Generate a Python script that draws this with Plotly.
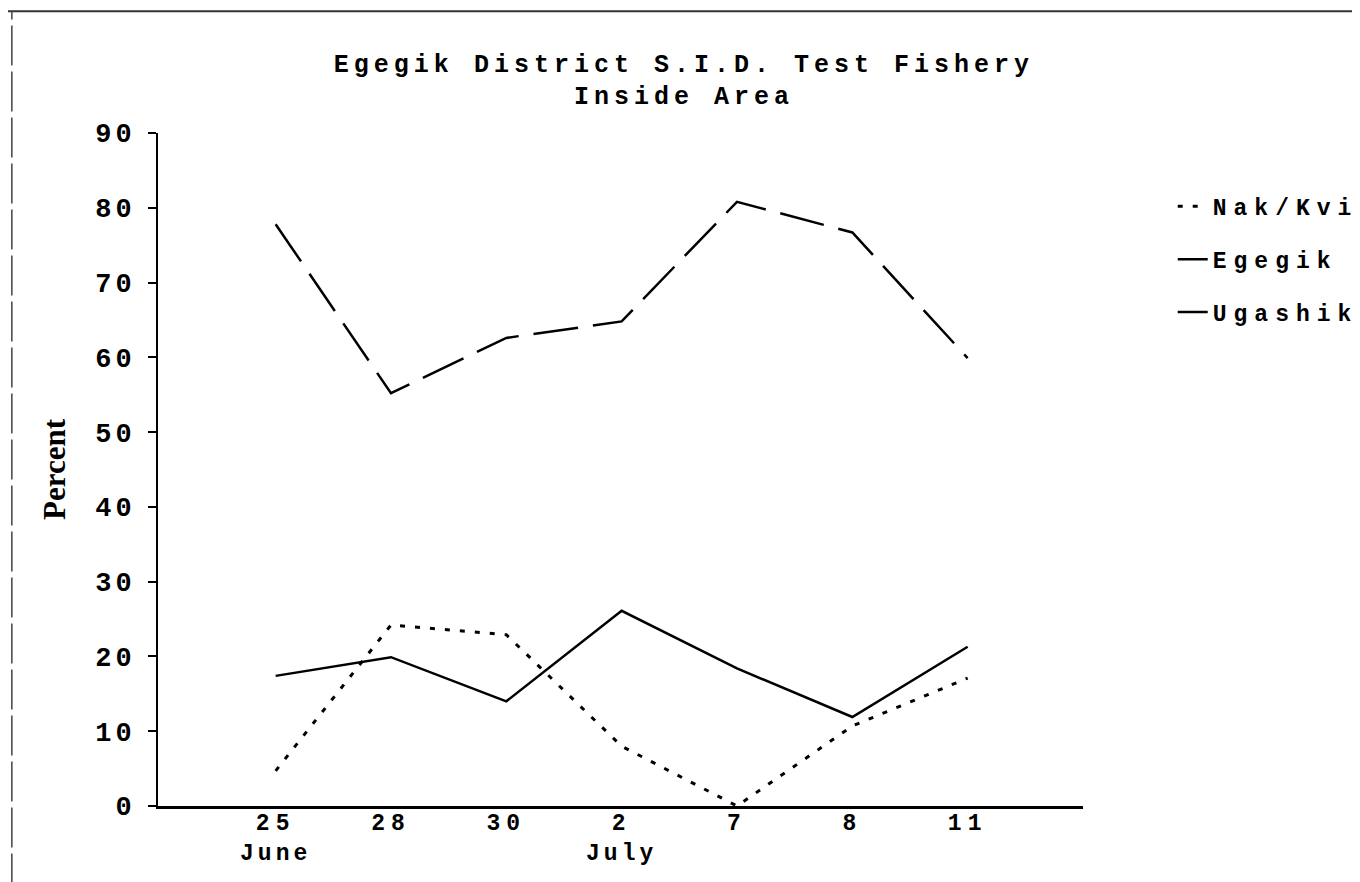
import plotly.graph_objects as go

# sampling dates (day of month) and month labels under the first day of each month
dates = ["25", "28", "30", "2", "7", "8", "11"]
months = ["June", "", "", "July", "", "", ""]

# percent of catch by stock
nak_kvi = [4.7, 24.2, 22.9, 8.0, 0.0, 10.7, 17.1]
egegik = [77.8, 55.2, 62.6, 64.8, 80.8, 76.7, 59.9]
ugashik = [17.4, 19.9, 14.0, 26.1, 18.4, 11.9, 21.3]

y_ticks = [0, 10, 20, 30, 40, 50, 60, 70, 80, 90]

MONO = "Liberation Mono"


def spaced(text, px):
    return f'<span style="letter-spacing:{px}px">{text}</span>'


x_ticktext = []
for d, m in zip(dates, months):
    label = spaced(d, 6)
    if m:
        label += "<br>" + spaced(m, 4)
    x_ticktext.append(label)

fig = go.Figure()
fig.add_trace(go.Scatter(x=dates, y=nak_kvi, mode="lines", name=spaced("Nak/Kvi", 7),
                         legendgroup="a", line=dict(color="black", width=3, dash="5px,10px")))
fig.add_trace(go.Scatter(x=dates, y=egegik, mode="lines", name=spaced("Egegik", 7),
                         legendgroup="b", line=dict(color="black", width=2.5, dash="45px,15px")))
fig.add_trace(go.Scatter(x=dates, y=ugashik, mode="lines", name=spaced("Ugashik", 7),
                         legendgroup="c", line=dict(color="black", width=2.5)))

fig.update_layout(
    width=1360,
    height=882,
    margin=dict(l=150, r=285, t=125, b=84, autoexpand=False),
    paper_bgcolor="white",
    plot_bgcolor="white",
    font=dict(family=MONO, color="black", size=24, weight="bold"),
    title=dict(
        text=spaced("Egegik District S.I.D. Test Fishery", 5),
        font=dict(family=MONO, size=25, weight="bold"),
        xref="container", x=0.497, xanchor="center",
        yref="container", y=0.947, yanchor="top",
    ),
    legend=dict(
        x=1.097, xanchor="left", y=0.923, yanchor="top",
        font=dict(family=MONO, size=23, weight="bold"),
        traceorder="grouped", tracegroupgap=20,
        bgcolor="rgba(0,0,0,0)",
    ),
    showlegend=True,
)

# second title line sits closer than a <br> line break would put it
fig.add_annotation(
    text=spaced("Inside Area", 5), xref="paper", yref="paper",
    x=(676 - 150) / 925, y=1.053, xanchor="center", yanchor="middle",
    showarrow=False, font=dict(family=MONO, size=25, weight="bold"),
)

fig.update_xaxes(
    type="category",
    range=[-1.02, 7.0],
    tickvals=dates,
    ticktext=x_ticktext,
    tickfont=dict(family=MONO, size=23, weight="bold"),
    showline=True, linecolor="black", linewidth=2.5,
    ticks="", ticklabelstandoff=-6,
    showgrid=False, zeroline=False,
)
fig.update_yaxes(
    range=[0, 90],
    tickvals=y_ticks,
    ticktext=[spaced(str(v), 4) for v in y_ticks],
    tickfont=dict(family=MONO, size=27, weight="bold"),
    showline=True, linecolor="black", linewidth=2,
    ticks="outside", ticklen=8, tickwidth=2, tickcolor="black",
    ticklabelstandoff=7,
    showgrid=False, zeroline=False,
    title=dict(text="Percent", font=dict(family="Liberation Serif", size=31), standoff=20),
)

# scan frame edges visible in the original page
fig.add_shape(type="line", xref="paper", yref="paper", x0=-0.2, x1=1.35, y0=1.181, y1=1.181,
              line=dict(color="#333", width=2))
fig.add_shape(type="line", xref="paper", yref="paper", x0=-0.158, x1=-0.158, y0=-0.13, y1=1.181,
              line=dict(color="#444", width=1.5, dash="40px,6px"))

fig.write_html("out.html")
